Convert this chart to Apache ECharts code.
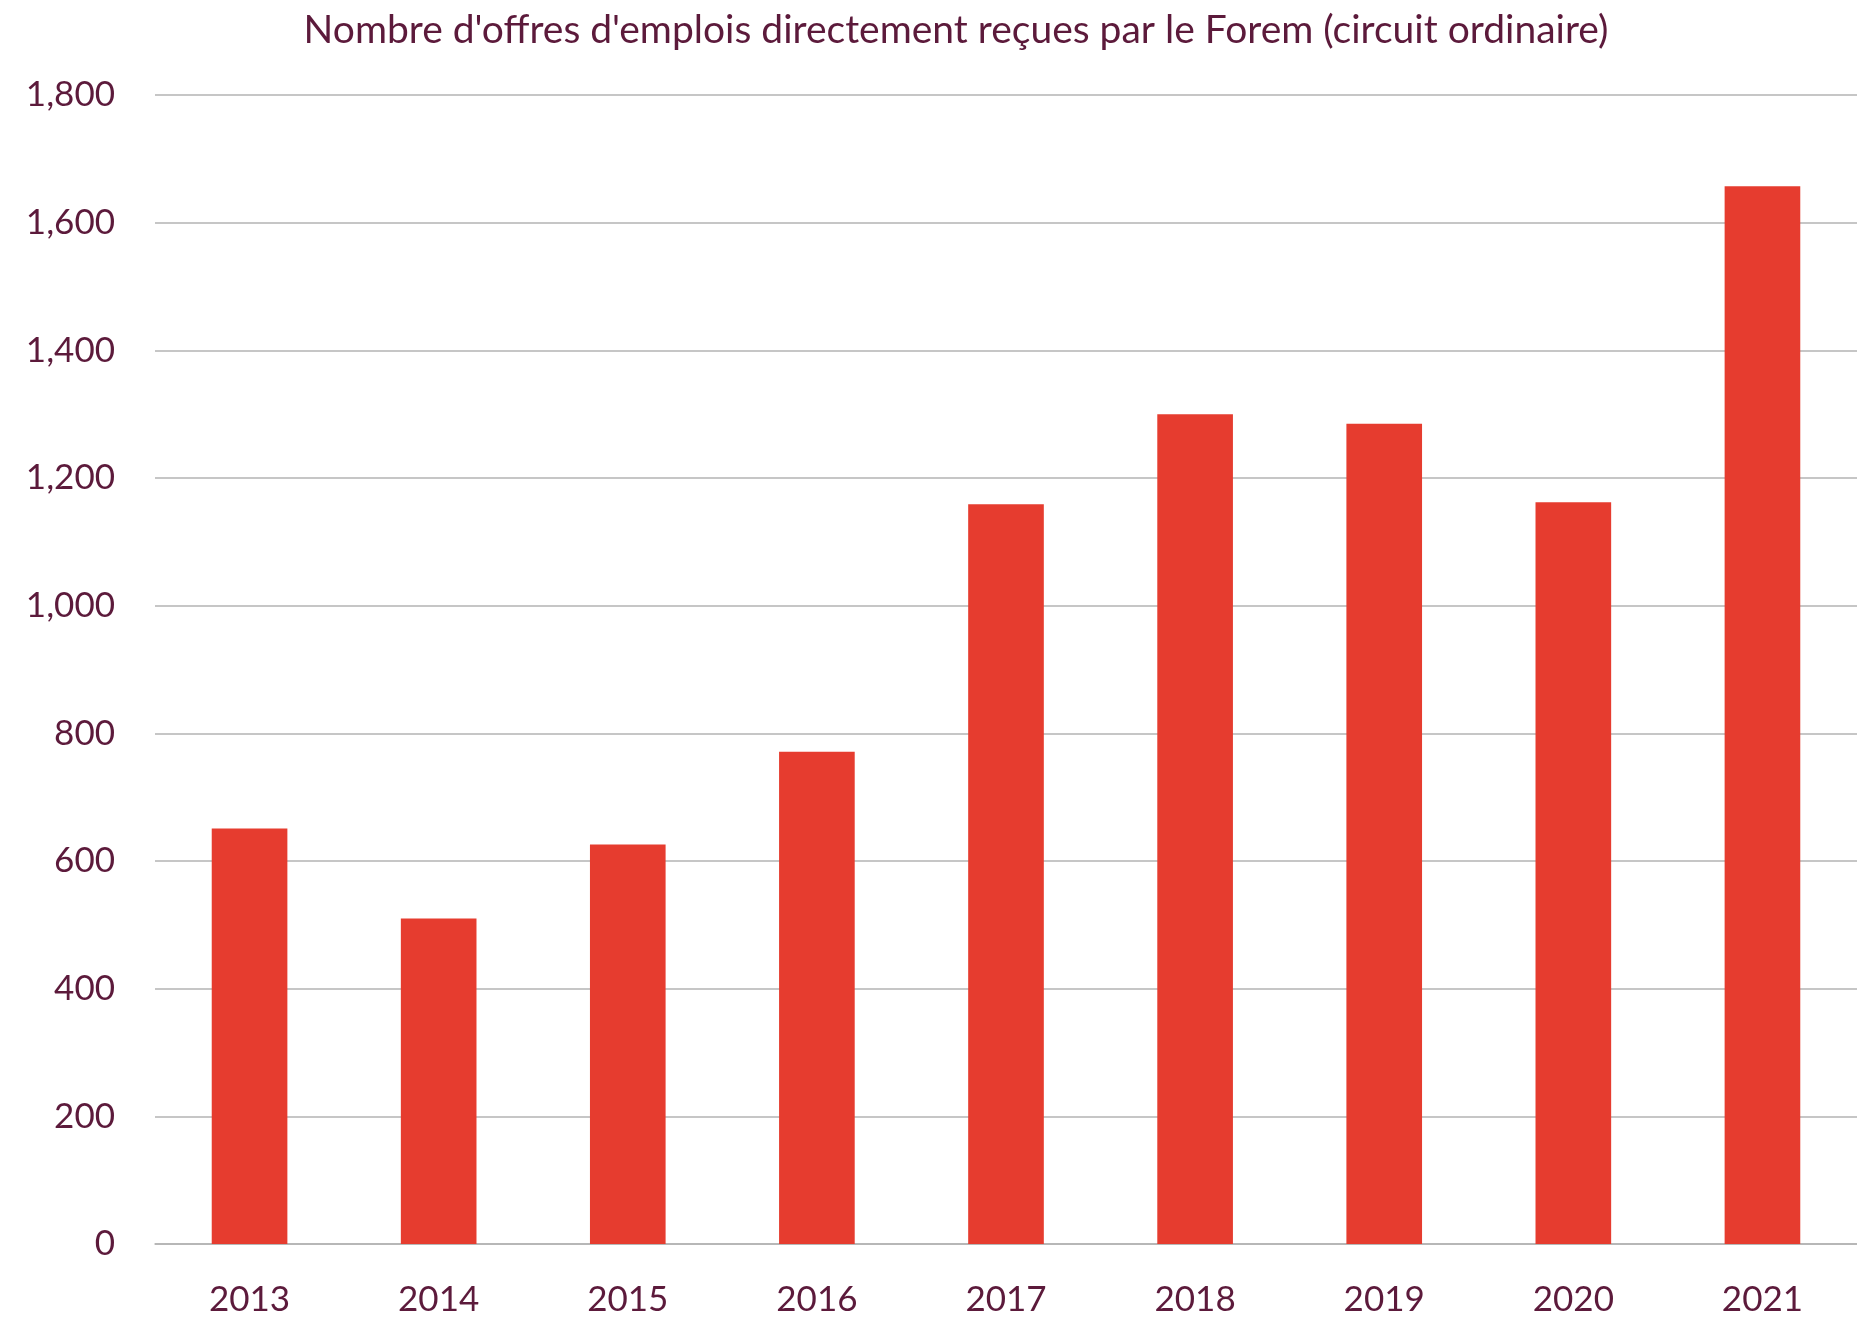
<!DOCTYPE html>
<html>
<head>
<meta charset="utf-8">
<script src="https://cdn.jsdelivr.net/npm/echarts@6/dist/echarts.min.js"></script>
<style>html,body{margin:0;padding:0;background:#fff}#c{width:1857px;height:1318px}</style>
</head>
<body>
<div id="c"></div>
<script>
const titleText = "Nombre d'offres d'emplois directement reçues par le Forem (circuit ordinaire)";
const categories = ["2013","2014","2015","2016","2017","2018","2019","2020","2021"];
const values = [651, 510, 626, 771, 1159, 1300, 1285, 1162, 1657];
const yMin = 0, yMax = 1800, yInterval = 200;

const textColor = '#5c1a3b';
const chart = echarts.init(document.getElementById('c'));
chart.setOption({
  animation: false,
  backgroundColor: '#fff',
  title: {
    text: titleText, left: 951, textAlign: 'center', top: 6,
    textStyle: {fontFamily: 'Lato', fontWeight: 'normal', fontSize: 39, color: textColor}
  },
  grid: {left: 155, width: 1710, top: 95, bottom: 74},
  xAxis: {
    type: 'category', data: categories,
    axisLine: {lineStyle: {color: '#b3b3b3', width: 1.5}},
    axisTick: {show: false},
    axisLabel: {color: textColor, fontFamily: 'Lato', fontSize: 35, margin: 38}
  },
  yAxis: {
    type: 'value', min: yMin, max: yMax, interval: yInterval,
    axisLine: {show: false}, axisTick: {show: false},
    splitLine: {lineStyle: {color: '#b3b3b3', width: 1.5}},
    axisLabel: {color: textColor, fontFamily: 'Lato', fontSize: 35, margin: 40,
      formatter: v => v.toLocaleString('en-US')}
  },
  series: [{
    type: 'bar', data: values, barWidth: '40%',
    itemStyle: {color: '#e63c2f'}
  }]
});
</script>
</body>
</html>
